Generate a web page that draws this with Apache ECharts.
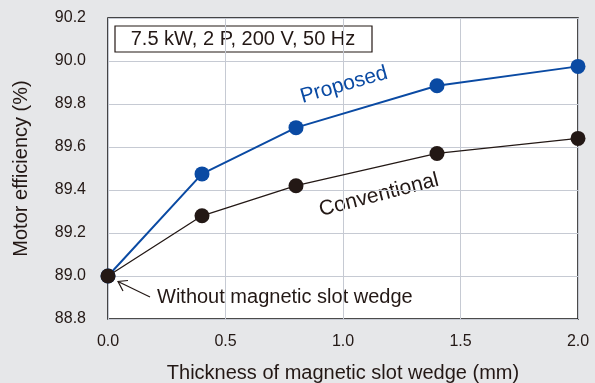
<!DOCTYPE html>
<html>
<head>
<meta charset="utf-8">
<script src="https://cdn.jsdelivr.net/npm/echarts@6/dist/echarts.min.js"></script>
<style>
  html, body { margin: 0; padding: 0; background: #e6e7e9; }
  #chart { width: 595px; height: 383px; }
</style>
</head>
<body>
<div id="chart"></div>
<script>
// thickness of wedge (mm)
const thickness = [0.0, 0.4, 0.8, 1.4, 2.0];
const proposed = [89.0, 89.475, 89.69, 89.885, 89.975];
const conventional = [89.0, 89.28, 89.42, 89.57, 89.64];

const blue = '#0a4aa3';
const dark = '#231815';
const font = 'Liberation Sans, Arial, sans-serif';

const chart = echarts.init(document.getElementById('chart'));

const pairs = (ys) => thickness.map((x, i) => [x, ys[i]]);

chart.setOption({
  backgroundColor: '#e6e7e9',
  animation: false,
  grid: {
    left: 108, right: 17, top: 18, bottom: 64,
    outerBoundsMode: 'none',
    containLabel: false,
    show: true,
    backgroundColor: '#ffffff',
    borderColor: '#111',
    borderWidth: 1.5
  },
  xAxis: {
    type: 'value',
    min: 0, max: 2, interval: 0.5,
    name: 'Thickness of magnetic slot wedge (mm)',
    nameLocation: 'middle',
    nameGap: 44,
    nameTextStyle: { fontFamily: font, fontSize: 20, color: '#231815' },
    axisLine: { show: false },
    axisTick: { show: false },
    axisLabel: { fontFamily: font, fontSize: 16, color: '#231815', margin: 15,
      formatter: v => v.toFixed(1) },
    splitLine: { lineStyle: { color: '#c6cad3', width: 1 } }
  },
  yAxis: {
    type: 'value',
    min: 88.8, max: 90.2, interval: 0.2,
    name: 'Motor efficiency (%)',
    nameLocation: 'middle',
    nameGap: 77,
    nameTextStyle: { fontFamily: font, fontSize: 20, color: '#231815' },
    axisLine: { show: false },
    axisTick: { show: false },
    axisLabel: { fontFamily: font, fontSize: 16, color: '#231815', margin: 22,
      formatter: v => v.toFixed(1) },
    splitLine: { lineStyle: { color: '#c6cad3', width: 1 } }
  },
  series: [
    {
      name: 'Proposed',
      type: 'line',
      data: pairs(proposed),
      symbol: 'circle',
      symbolSize: 15,
      lineStyle: { color: blue, width: 2 },
      itemStyle: { color: blue }
    },
    {
      name: 'Conventional',
      type: 'line',
      data: pairs(conventional),
      symbol: 'circle',
      symbolSize: 15,
      lineStyle: { color: dark, width: 1.3 },
      itemStyle: { color: dark }
    }
  ],
  graphic: [
    {
      type: 'rect',
      shape: { x: 115, y: 26, width: 257, height: 26 },
      style: { fill: '#fff', stroke: '#231815', lineWidth: 1.2 }
    },
    {
      type: 'text',
      x: 243, y: 39.5,
      style: { text: '7.5 kW, 2 P, 200 V, 50 Hz', font: '20px ' + font,
        fill: '#231815', align: 'center', verticalAlign: 'middle' }
    },
    {
      type: 'text',
      x: 344, y: 85,
      rotation: 16 * Math.PI / 180,
      style: { text: 'Proposed', font: '21px ' + font, fill: blue,
        align: 'center', verticalAlign: 'middle' }
    },
    {
      type: 'text',
      x: 379, y: 195,
      rotation: 14.5 * Math.PI / 180,
      style: { text: 'Conventional', font: '21px ' + font, fill: dark,
        align: 'center', verticalAlign: 'middle' }
    },
    {
      type: 'text',
      x: 157, y: 297,
      style: { text: 'Without magnetic slot wedge', font: '20px ' + font,
        fill: dark, align: 'left', verticalAlign: 'middle' }
    },
    {
      type: 'polyline',
      shape: { points: [[150, 297], [119, 282]] },
      style: { stroke: dark, lineWidth: 1.2, fill: null }
    },
    {
      type: 'polyline',
      shape: { points: [[123, 291], [118, 281.5], [128, 280.5]] },
      style: { stroke: dark, lineWidth: 1.2, fill: null }
    }
  ]
});
</script>
</body>
</html>
